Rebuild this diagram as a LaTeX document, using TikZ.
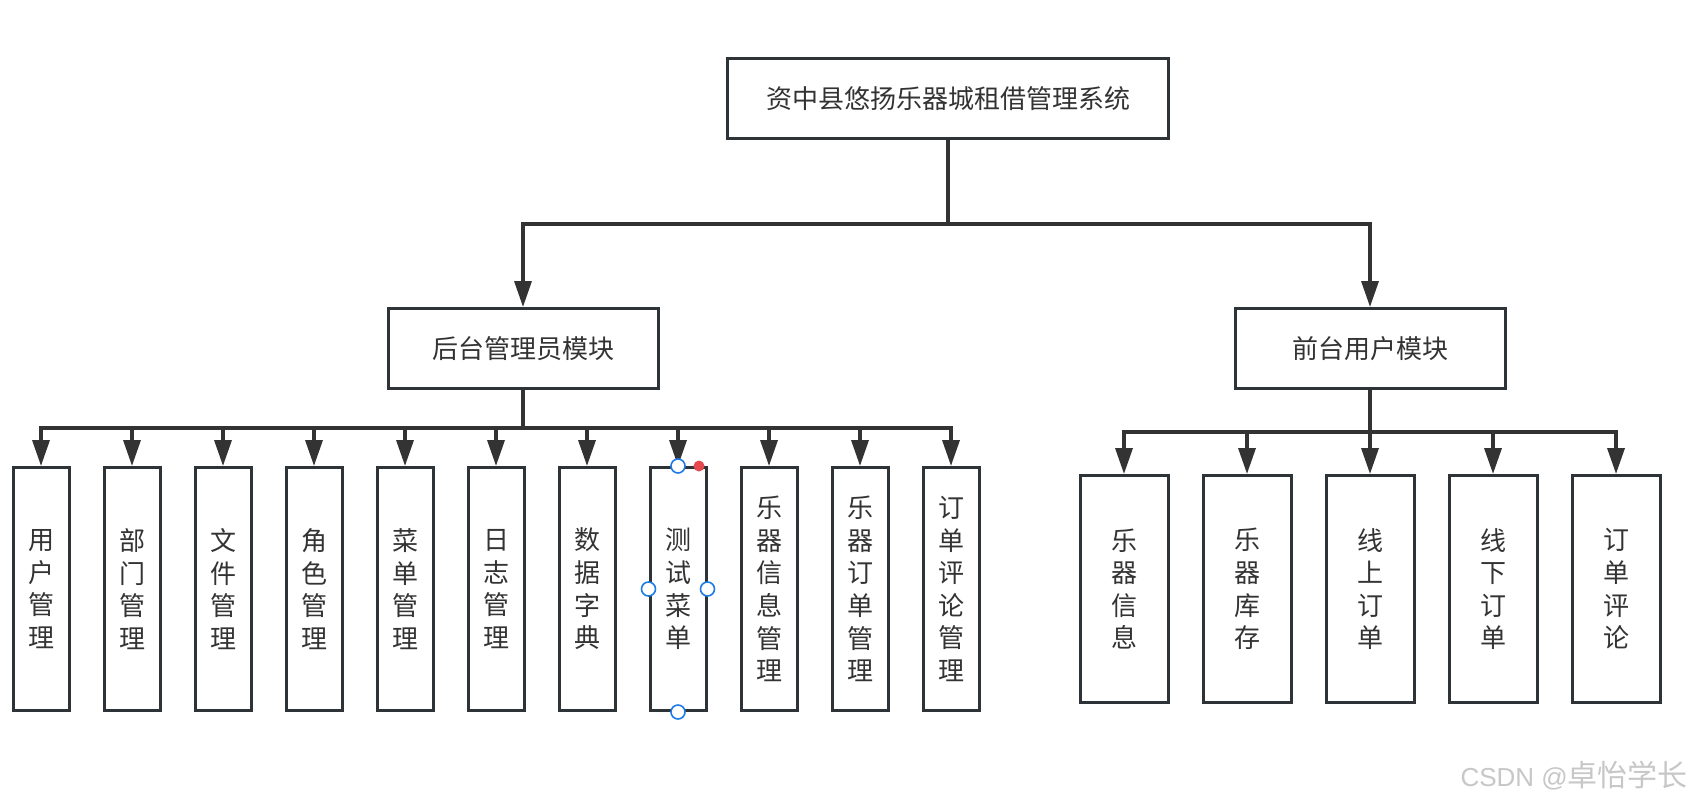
\documentclass[tikz,border=0pt]{standalone}
\usepackage{fontspec}
\setmainfont{Noto Sans CJK SC}
\newfontfamily\wmfont{Liberation Sans}
\usetikzlibrary{arrows.meta}
\definecolor{ink}{HTML}{333333}
\definecolor{edge}{HTML}{2E3338}
\definecolor{handle}{HTML}{1E7BE6}
\definecolor{reddot}{HTML}{E5484D}
\begin{document}
\begin{tikzpicture}[x=1pt,y=-1pt,
  box/.style={draw=edge, line width=3pt, fill=white, inner sep=0pt, text=ink,
    font=\fontsize{26}{32.6}\selectfont, align=center},
  leafl/.style={box, minimum width=56pt, minimum height=243pt},
  leafr/.style={box, minimum width=88pt, minimum height=227pt},
  conn/.style={draw=ink, line width=3.4pt},
  arr/.style={conn, -{Triangle[width=17pt,length=26pt]}},
  hdl/.style={draw=handle, fill=white, line width=1.6pt},
]
\useasboundingbox[fill=white] (0,0) rectangle (1693,807);

\node[box, minimum width=441pt, minimum height=80pt] (root) at (948,98.5) {资中县悠扬乐器城租借管理系统};
\node[box, minimum width=270pt, minimum height=80pt] (admin) at (523,348.5) {后台管理员模块};
\node[box, minimum width=270pt, minimum height=80pt] (front) at (1370,348.5) {前台用户模块};

\coordinate (j0) at (948,224);
\draw[conn] (root.south) -- (j0);
\draw[arr] (j0) -| (admin.north);
\draw[arr] (j0) -| (front.north);

\foreach \i/\x/\t in {1/41/{用\\户\\管\\理}, 2/132/{部\\门\\管\\理}, 3/223/{文\\件\\管\\理},
  4/314/{角\\色\\管\\理}, 5/405/{菜\\单\\管\\理}, 6/496/{日\\志\\管\\理},
  7/587/{数\\据\\字\\典}, 8/678/{测\\试\\菜\\单}, 9/769/{乐\\器\\信\\息\\管\\理},
  10/860/{乐\\器\\订\\单\\管\\理}, 11/951/{订\\单\\评\\论\\管\\理}}
  \node[leafl] (c\i) at (\x,589) {\t};

\foreach \i/\x/\t in {1/1124/{乐\\器\\信\\息}, 2/1247/{乐\\器\\库\\存}, 3/1370/{线\\上\\订\\单},
  4/1493/{线\\下\\订\\单}, 5/1616/{订\\单\\评\\论}}
  \node[leafr] (r\i) at (\x,589) {\t};

\coordinate (jl) at (523,428);
\draw[conn] (admin.south) -- (jl);
\foreach \i in {1,...,11} \draw[arr] (jl) -| (c\i.north);

\coordinate (jr) at (1370,432);
\draw[conn] (front.south) -- (jr);
\foreach \i in {1,...,5} \draw[arr] (jr) -| (r\i.north);

% selection handles on the selected box
\draw[hdl] (c8.north) circle (7pt);
\draw[hdl] (c8.west) circle (7pt);
\draw[hdl] (c8.east) circle (7pt);
\draw[hdl] (c8.south) circle (7pt);
\fill[reddot] (699,466) circle (5.5pt);

\node[anchor=east, text=black!22, inner sep=0pt, font=\fontsize{30}{32}\selectfont] (wm) at (1688,776)
  {{\wmfont\fontsize{26}{30}\selectfont CSDN @}卓怡学长};
\end{tikzpicture}
\end{document}
